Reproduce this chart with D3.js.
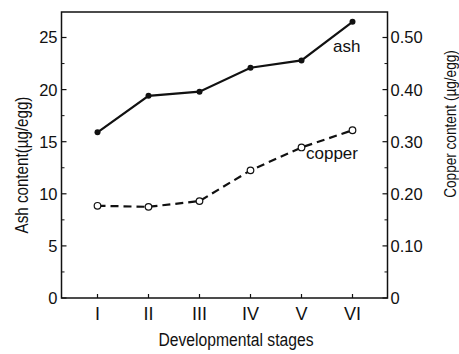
<!DOCTYPE html>
<html>
<head>
<meta charset="utf-8">
<script src="https://d3js.org/d3.v7.min.js"></script>
<style>
    body { background: #fff; margin: 0; font-family: "Liberation Sans", Arial, sans-serif; }
    svg { display: block; }
    text { fill: #111; }
</style>
</head>
<body>
<svg width="459" height="354"></svg>
<script>
    // data
    const stages = ["I", "II", "III", "IV", "V", "VI"];
    const ash = [15.9, 19.4, 19.8, 22.1, 22.8, 26.5];          // µg/egg
    const copper = [0.177, 0.175, 0.186, 0.245, 0.289, 0.322]; // µg/egg
    const ashTicks = [0, 5, 10, 15, 20, 25];
    const copperTicks = [0, 0.10, 0.20, 0.30, 0.40, 0.50];

    const svg = d3.select("svg");
    const mLeft = 61.5, mRight = 387.5, mTop = 12, mBottom = 298;

    const x = d3.scalePoint().domain(stages).range([97.5, 352.5]);
    const yAsh = d3.scaleLinear().domain([0, 25]).range([mBottom, 37.5]);
    const yCu = d3.scaleLinear().domain([0, 0.5]).range([mBottom, 37.5]);

    // frame
    svg.append("rect")
        .attr("x", mLeft).attr("y", mTop)
        .attr("width", mRight - mLeft).attr("height", mBottom - mTop)
        .attr("fill", "none").attr("stroke", "#111").attr("stroke-width", 1.5);

    // left axis: inward ticks, labels outside
    const gL = svg.append("g").attr("transform", `translate(${mLeft},0)`);
    gL.selectAll(".minor").data(d3.range(2.5, 27.5, 5)).enter().append("line")
        .attr("x1", 0).attr("x2", 3).attr("y1", d => yAsh(d)).attr("y2", d => yAsh(d))
        .attr("stroke", "#111").attr("stroke-width", 1);
    gL.selectAll(".major").data(ashTicks).enter().append("line")
        .attr("x1", 0).attr("x2", 5).attr("y1", d => yAsh(d)).attr("y2", d => yAsh(d))
        .attr("stroke", "#111").attr("stroke-width", 1.2);
    gL.selectAll("text").data(ashTicks).enter().append("text")
        .attr("x", -4).attr("y", d => yAsh(d)).attr("dy", "0.36em")
        .attr("text-anchor", "end").attr("font-size", 16.5)
        .text(d => d);

    // right axis
    const gR = svg.append("g").attr("transform", `translate(${mRight},0)`);
    gR.selectAll(".minor").data(d3.range(0.05, 0.55, 0.1)).enter().append("line")
        .attr("x1", 0).attr("x2", -3).attr("y1", d => yCu(d)).attr("y2", d => yCu(d))
        .attr("stroke", "#111").attr("stroke-width", 1);
    gR.selectAll(".major").data(copperTicks).enter().append("line")
        .attr("x1", 0).attr("x2", -5).attr("y1", d => yCu(d)).attr("y2", d => yCu(d))
        .attr("stroke", "#111").attr("stroke-width", 1.2);
    gR.selectAll("text").data(copperTicks).enter().append("text")
        .attr("x", 3).attr("y", d => yCu(d)).attr("dy", "0.36em")
        .attr("font-size", 16.5)
        .text(d => d === 0 ? "0" : d3.format(".2f")(d));

    // bottom axis
    const gB = svg.append("g").attr("transform", `translate(0,${mBottom})`);
    gB.selectAll("line").data(stages).enter().append("line")
        .attr("x1", d => x(d)).attr("x2", d => x(d)).attr("y1", 0).attr("y2", -4)
        .attr("stroke", "#111").attr("stroke-width", 1.2);
    gB.selectAll("text").data(stages).enter().append("text")
        .attr("x", d => x(d)).attr("y", 22)
        .attr("text-anchor", "middle").attr("font-size", 18)
        .text(d => d);

    // axis titles (the originals are set in a condensed face, squeeze horizontally)
    svg.append("text")
        .attr("transform", "translate(28,165) rotate(-90) scale(0.82,1)")
        .attr("text-anchor", "middle").attr("font-size", 18.5)
        .text("Ash content(µg/egg)");
    svg.append("text")
        .attr("transform", "translate(456,124) rotate(-90) scale(0.8,1)")
        .attr("text-anchor", "middle").attr("font-size", 17)
        .text("Copper content (µg/egg)");
    svg.append("text")
        .attr("transform", "translate(236,346) scale(0.825,1)")
        .attr("text-anchor", "middle").attr("font-size", 19)
        .text("Developmental stages");

    // ash line
    svg.append("path")
        .datum(ash)
        .attr("fill", "none").attr("stroke", "#111").attr("stroke-width", 2.2)
        .attr("d", d3.line().x((d, i) => x(stages[i])).y(d => yAsh(d)));
    svg.selectAll(".ashpt").data(ash).enter().append("circle")
        .attr("cx", (d, i) => x(stages[i])).attr("cy", d => yAsh(d))
        .attr("r", 3).attr("fill", "#111");

    // copper line
    svg.append("path")
        .datum(copper)
        .attr("fill", "none").attr("stroke", "#111").attr("stroke-width", 2.2)
        .attr("stroke-dasharray", "8,5")
        .attr("d", d3.line().x((d, i) => x(stages[i])).y(d => yCu(d)));
    svg.selectAll(".cupt").data(copper).enter().append("circle")
        .attr("cx", (d, i) => x(stages[i])).attr("cy", d => yCu(d))
        .attr("r", 3.3).attr("fill", "#fff").attr("stroke", "#111").attr("stroke-width", 1.2);

    // series labels
    svg.append("text").attr("x", 333).attr("y", 52).attr("font-size", 17).text("ash");
    svg.append("text").attr("x", 306).attr("y", 159).attr("font-size", 17).text("copper");
</script>
</body>
</html>
